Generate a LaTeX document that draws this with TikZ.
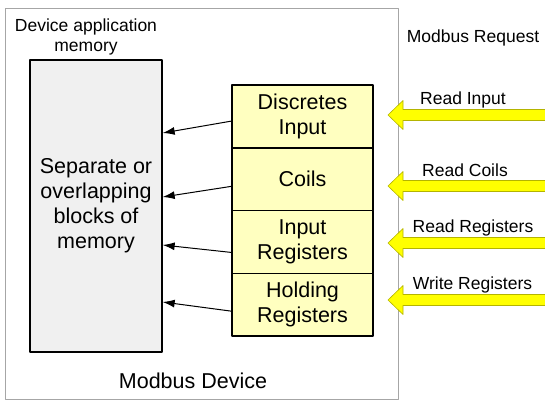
\documentclass[tikz,border=0pt]{standalone}
\usepackage{fontspec}
\setmainfont{Liberation Sans}
\usetikzlibrary{positioning,arrows.meta}
\definecolor{regfill}{HTML}{FFFFC0}
\definecolor{memfill}{HTML}{F0F0F0}
\definecolor{reqfill}{HTML}{FFFF00}
\definecolor{reqline}{HTML}{B4B400}
\tikzset{
	big/.style={font=\fontsize{21.5}{25}\selectfont},
	small/.style={font=\fontsize{17.5}{20}\selectfont},
	membox/.style={draw,line width=1.3pt,fill=memfill,minimum width=132pt,minimum height=292pt,big,align=center},
	regbox/.style={draw,line width=1.3pt,fill=regfill,minimum width=141pt,minimum height=62.75pt,big,align=center,inner sep=0pt,outer sep=0pt},
	reqarrow/.style={fill=reqfill,draw=reqline,line width=0.6pt}
}
\begin{document}
\begin{tikzpicture}[x=1pt,y=-1pt,line join=round,>={Latex[length=12pt,width=8pt]}]
	\useasboundingbox (0,0) rectangle (545,406);
	\node[draw=gray!70,line width=0.8pt,minimum width=393pt,minimum height=391pt] (dev) at (201.5,203.5) {};
	\node[small,align=center] (appmem) at (86,37) {Device application\\memory};
	\node[big] (devlabel) at (193,381) {Modbus Device};
	\node[small] (req) at (473,38) {Modbus Request};
	\node[membox] (mem) at (96,206) {Separate or\\overlapping\\blocks of\\memory};
	% register tables
	\node[regbox] (di) at (302.5,116.5) {Discretes\\Input};
	\node[regbox,below=0pt of di] (co) {Coils};
	\node[regbox,below=0pt of co] (ir) {Input\\Registers};
	\node[regbox,below=0pt of ir] (hr) {Holding\\Registers};
	\foreach \n/\a/\b in {di/-4.5/73,co/-7/9,ir/-10.5/-39,hr/-6.5/-96}{
		\draw[->,line width=1pt] ([yshift=\a pt]\n.west) -- ([yshift=\b pt]mem.east);
	};
	% requests
	\foreach \y/\t/\lx in {115/Read Input/463,186/Read Coils/465,243/Read Registers/473,300/Write Registers/472.5}{
		\coordinate (tip) at (388,\y);
		\draw[reqarrow] (tip) -- ++(15,-14.5) -- ++(0,9) -- (548,\y-5.5) -- (548,\y+5.5) -- (403,\y+5.5) -- ++(0,9) -- cycle;
		\node[small] at (\lx,\y-15.5) {\t};
	};
\end{tikzpicture}
\end{document}
